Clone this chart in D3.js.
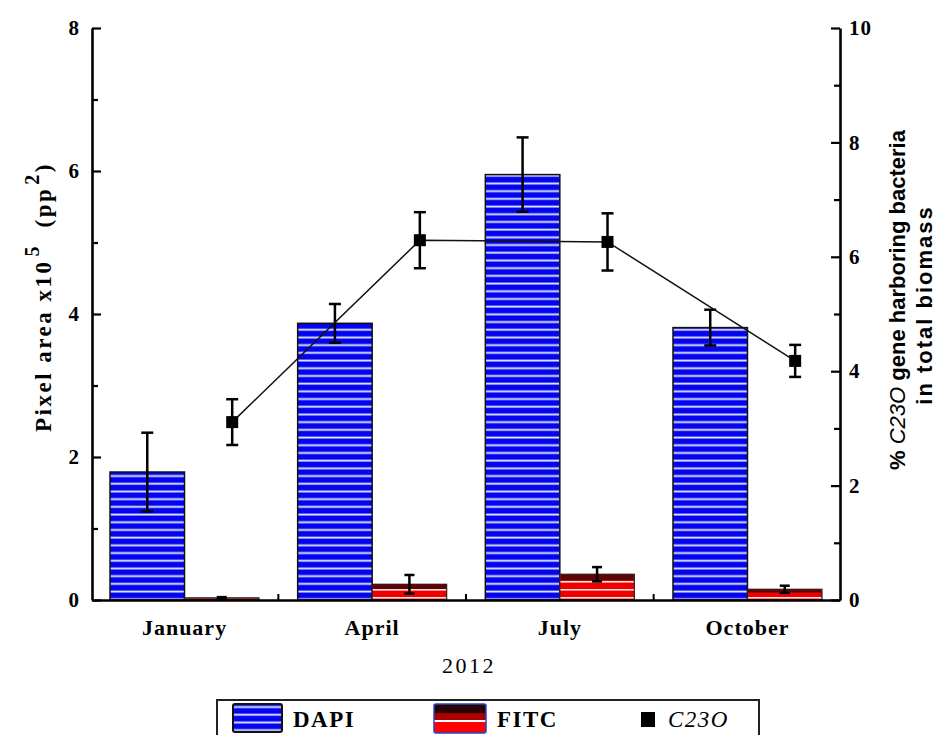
<!DOCTYPE html>
<html>
<head>
<meta charset="utf-8">
<script src="https://cdn.jsdelivr.net/npm/d3@7"></script>
<style>
body { margin: 0; background: #fff; }
svg text { fill: #000; }
</style>
</head>
<body>
<svg id="chart" width="940" height="735"></svg>
<script>
var months = ['January', 'April', 'July', 'October'];
var dapiValues = [1.79, 3.87, 5.95, 3.81];
var dapiErrors = [0.55, 0.27, 0.52, 0.25];
var fitcValues = [0.03, 0.22, 0.36, 0.15];
var fitcErrors = [0.01, 0.13, 0.10, 0.05];
var c23oValues = [3.11, 6.29, 6.26, 4.18];
var c23oErrors = [0.40, 0.49, 0.50, 0.28];
var leftTicks = [0, 2, 4, 6, 8];
var leftMinor = [1, 3, 5, 7];
var rightTicks = [0, 2, 4, 6, 8, 10];
var rightMinor = [1, 3, 5, 7, 9];
var yearLabel = '2012';

const LEFT = 92, RIGHT = 840, TOP = 28, BOTTOM = 600;
const SERIF = '"Liberation Serif", "Times New Roman", serif';
const SANS = '"Liberation Sans", Arial, sans-serif';

var svg = d3.select('#chart').style('font-family', SERIF);

var xScale = d3.scaleBand().domain(months).range([LEFT, RIGHT])
    .paddingInner(0.206).paddingOuter(0.096);
var yLeft = d3.scaleLinear().domain([0, 8]).range([BOTTOM, TOP]);
var yRight = d3.scaleLinear().domain([0, 10]).range([BOTTOM, TOP]);
var barW = xScale.bandwidth() / 2;

// fills
var defs = svg.append('defs');
var dapiPat = defs.append('pattern').attr('id', 'dapiFill')
    .attr('patternUnits', 'userSpaceOnUse').attr('width', 8).attr('height', 7.7);
dapiPat.append('rect').attr('width', 8).attr('height', 7.7).attr('fill', '#0404ee');
dapiPat.append('rect').attr('y', 5.4).attr('width', 8).attr('height', 1.9).attr('fill', '#dfe5ff');

var fitcPat = defs.append('pattern').attr('id', 'fitcFill')
    .attr('patternUnits', 'userSpaceOnUse').attr('width', 8).attr('height', 8);
fitcPat.append('rect').attr('width', 8).attr('height', 8).attr('fill', '#f00000');
fitcPat.append('rect').attr('y', 5).attr('width', 8).attr('height', 1.6).attr('fill', '#ffe0e0');

var fitcGrad = defs.append('linearGradient').attr('id', 'fitcSwatch')
    .attr('x1', 0).attr('y1', 0).attr('x2', 0).attr('y2', 1);
[['0', '#2a0202'], ['0.3', '#2a0202'], ['0.3', '#a80000'], ['0.55', '#a80000'],
 ['0.55', '#ffffff'], ['0.62', '#ffffff'], ['0.62', '#ff0000'], ['1', '#ff0000']]
    .forEach(function (s) {
        fitcGrad.append('stop').attr('offset', s[0]).attr('stop-color', s[1]);
    });

// bars
var plot = svg.append('g');
plot.selectAll('.dapi').data(months).enter().append('rect')
    .attr('x', function (d) { return xScale(d); })
    .attr('y', function (d, i) { return yLeft(dapiValues[i]); })
    .attr('width', barW)
    .attr('height', function (d, i) { return BOTTOM - yLeft(dapiValues[i]); })
    .attr('fill', 'url(#dapiFill)')
    .attr('stroke', '#111').attr('stroke-width', 1.5);

plot.selectAll('.fitc').data(months).enter().append('rect')
    .attr('x', function (d) { return xScale(d) + barW; })
    .attr('y', function (d, i) { return yLeft(fitcValues[i]); })
    .attr('width', barW)
    .attr('height', function (d, i) { return BOTTOM - yLeft(fitcValues[i]); })
    .attr('fill', 'url(#fitcFill)')
    .attr('stroke', '#222').attr('stroke-width', 1.2);

// darker cap on top of the FITC bars
plot.selectAll('.fitcTop').data(months).enter().append('rect')
    .attr('x', function (d) { return xScale(d) + barW + 0.6; })
    .attr('y', function (d, i) { return yLeft(fitcValues[i]); })
    .attr('width', barW - 1.2)
    .attr('height', function (d, i) { return Math.min(6, (BOTTOM - yLeft(fitcValues[i])) * 0.3); })
    .attr('fill', '#5a0606');

var errorBar = function (g, x, yScale, val, err, cap) {
    var top = yScale(val + err), bot = yScale(val - err);
    g.append('line').attr('x1', x).attr('x2', x).attr('y1', top).attr('y2', bot);
    g.append('line').attr('x1', x - cap / 2).attr('x2', x + cap / 2).attr('y1', top).attr('y2', top);
    g.append('line').attr('x1', x - cap / 2).attr('x2', x + cap / 2).attr('y1', bot).attr('y2', bot);
};

var errs = svg.append('g').attr('stroke', '#000').attr('stroke-width', 2.5);
months.forEach(function (m, i) {
    errorBar(errs, xScale(m) + barW / 2, yLeft, dapiValues[i], dapiErrors[i], 12);
    errorBar(errs, xScale(m) + barW * 1.5, yLeft, fitcValues[i], fitcErrors[i], 10);
});

// C23O line
var pointX = function (m) { return xScale(m) + xScale.bandwidth() * 0.82; };
var line = d3.line()
    .x(function (d) { return pointX(d); })
    .y(function (d, i) { return yRight(c23oValues[i]); });
svg.append('path').datum(months).attr('d', line)
    .attr('fill', 'none').attr('stroke', '#111').attr('stroke-width', 1.5);

var errs2 = svg.append('g').attr('stroke', '#000').attr('stroke-width', 2.5);
months.forEach(function (m, i) {
    errorBar(errs2, pointX(m), yRight, c23oValues[i], c23oErrors[i], 12);
});
svg.selectAll('.pt').data(months).enter().append('rect')
    .attr('x', function (d) { return pointX(d) - 6; })
    .attr('y', function (d, i) { return yRight(c23oValues[i]) - 6; })
    .attr('width', 12).attr('height', 12).attr('fill', '#000');

// axes
var styleAxis = function (g, size) {
    g.attr('font-family', null);
    g.select('.domain').attr('stroke', '#000').attr('stroke-width', 2.6);
    g.selectAll('.tick line').attr('stroke', '#000').attr('stroke-width', 2.2);
    g.selectAll('.tick text').style('font-family', SERIF)
        .attr('font-weight', 'bold').attr('font-size', size).attr('letter-spacing', 1);
};

var gl = svg.append('g').attr('transform', 'translate(' + LEFT + ',0)')
    .call(d3.axisLeft(yLeft).tickValues(leftTicks).tickSizeInner(-9).tickSizeOuter(0).tickPadding(12));
styleAxis(gl, 21);
var glm = svg.append('g').attr('transform', 'translate(' + LEFT + ',0)')
    .call(d3.axisLeft(yLeft).tickValues(leftMinor).tickSizeInner(-6).tickFormat(''));
glm.select('.domain').remove();
styleAxis(glm, 21);

var gr = svg.append('g').attr('transform', 'translate(' + RIGHT + ',0)')
    .call(d3.axisRight(yRight).tickValues(rightTicks).tickSizeInner(-9).tickSizeOuter(0).tickPadding(9));
styleAxis(gr, 21);
var grm = svg.append('g').attr('transform', 'translate(' + RIGHT + ',0)')
    .call(d3.axisRight(yRight).tickValues(rightMinor).tickSizeInner(-6).tickFormat(''));
grm.select('.domain').remove();
styleAxis(grm, 21);

var gb = svg.append('g').attr('transform', 'translate(0,' + BOTTOM + ')')
    .call(d3.axisBottom(xScale).tickSizeInner(0).tickSizeOuter(0).tickPadding(19));
styleAxis(gb, 22);

// small ticks between the month groups
var gap = xScale.step() * xScale.paddingInner();
svg.append('g').selectAll('line').data(months.slice(1)).enter().append('line')
    .attr('x1', function (d) { return xScale(d) - gap / 2; })
    .attr('x2', function (d) { return xScale(d) - gap / 2; })
    .attr('y1', BOTTOM).attr('y2', BOTTOM - 6)
    .attr('stroke', '#000').attr('stroke-width', 2);

svg.append('text').attr('x', 469).attr('y', 673).attr('text-anchor', 'middle')
    .attr('font-size', 22).attr('letter-spacing', 2.5).text(yearLabel);

// left title
var lt = svg.append('text').attr('transform', 'translate(51,297) rotate(-90)')
    .attr('text-anchor', 'middle').attr('font-size', 23).attr('font-weight', 'bold')
    .attr('letter-spacing', 2.5);
lt.append('tspan').text('Pixel area x10');
lt.append('tspan').attr('dy', -12).attr('dx', 3).attr('font-size', 20).text('5');
lt.append('tspan').attr('dy', 12).text('\u00a0 (pp');
lt.append('tspan').attr('dy', -12).attr('dx', 2).attr('font-size', 20).text('2');
lt.append('tspan').attr('dy', 12).text(')');

// right title
var rt1 = svg.append('text').attr('transform', 'translate(905,300) rotate(-90)')
    .attr('text-anchor', 'middle').attr('font-size', 22).attr('font-weight', 'bold')
    .style('font-family', SANS);
rt1.append('tspan').text('% ');
rt1.append('tspan').attr('font-style', 'italic').attr('font-weight', 'normal').text('C23O');
rt1.append('tspan').text(' gene harboring bacteria');
svg.append('text').attr('transform', 'translate(932,305) rotate(-90)')
    .attr('text-anchor', 'middle').attr('font-size', 22).attr('font-weight', 'bold')
    .style('font-family', SANS).attr('letter-spacing', 2)
    .text('in total biomass');

// legend
var lg = svg.append('g');
lg.append('rect').attr('x', 217).attr('y', 700).attr('width', 542).attr('height', 60)
    .attr('fill', '#fff').attr('stroke', '#222').attr('stroke-width', 2);
lg.append('rect').attr('x', 233).attr('y', 704).attr('width', 49).attr('height', 28).attr('rx', 2)
    .attr('fill', 'url(#dapiFill)').attr('stroke', '#111').attr('stroke-width', 2);
lg.append('text').attr('x', 293).attr('y', 727).attr('font-size', 23).attr('font-weight', 'bold')
    .attr('letter-spacing', 1.5).text('DAPI');
lg.append('rect').attr('x', 434).attr('y', 704).attr('width', 52).attr('height', 29).attr('rx', 2)
    .attr('fill', 'url(#fitcSwatch)').attr('stroke', '#2244cc').attr('stroke-width', 1.5);
lg.append('text').attr('x', 497).attr('y', 727).attr('font-size', 23).attr('font-weight', 'bold')
    .attr('letter-spacing', 1.5).text('FITC');
lg.append('rect').attr('x', 641).attr('y', 712).attr('width', 14).attr('height', 15).attr('fill', '#000');
lg.append('text').attr('x', 668).attr('y', 727).attr('font-size', 23).attr('font-style', 'italic')
    .attr('letter-spacing', 1.5).text('C23O');
</script>
</body>
</html>
